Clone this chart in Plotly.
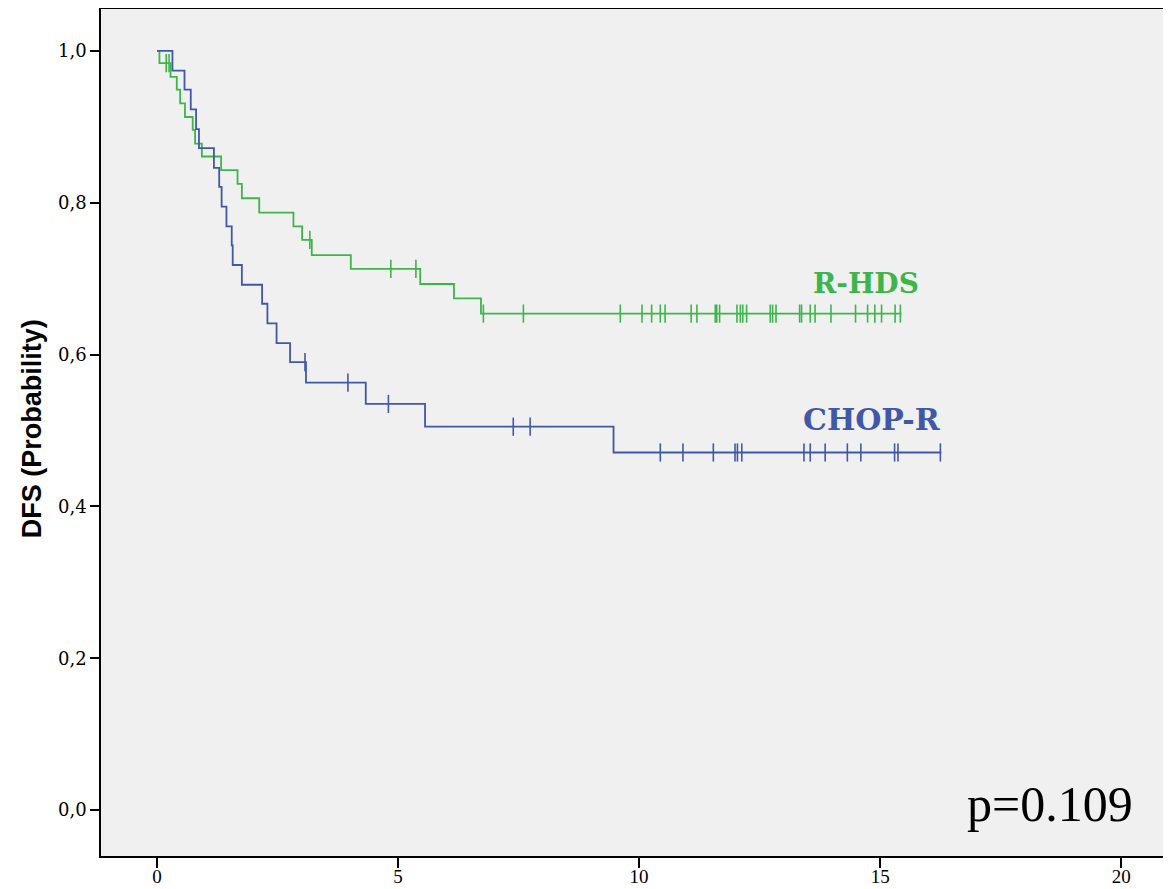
import numpy as np
import plotly.graph_objects as go

# ---- R-HDS (green) : event times and survival after each drop
rhds_times = [0.0, 0.05, 0.28, 0.41, 0.48, 0.58, 0.74, 0.79, 0.93, 1.33, 1.67, 1.76,
              2.12, 2.83, 3.01, 3.21, 4.02, 5.46, 6.16, 6.72]
rhds_surv = [1.0, 0.984, 0.966, 0.949, 0.931, 0.913, 0.896, 0.878, 0.861, 0.843, 0.825,
             0.806, 0.787, 0.769, 0.751, 0.731, 0.713, 0.693, 0.674, 0.654]
rhds_censor = [0.19, 0.25, 3.17, 4.85, 5.37, 6.77, 7.60, 9.61, 10.06, 10.26, 10.44, 10.54,
               11.08, 11.20, 11.58, 11.61, 11.67, 12.03, 12.10, 12.15, 12.23, 12.72, 12.77,
               12.84, 13.33, 13.37, 13.55, 13.65, 13.98, 14.49, 14.74, 14.89, 15.03, 15.31,
               15.42]
rhds_end = 15.44

# ---- CHOP-R (blue)
chop_times = [0.0, 0.32, 0.57, 0.70, 0.81, 0.87, 1.18, 1.29, 1.34, 1.44, 1.55, 1.57,
              1.76, 2.18, 2.29, 2.48, 2.76, 3.09, 4.33, 5.56, 9.47]
chop_surv = [1.0, 0.974, 0.949, 0.923, 0.897, 0.872, 0.846, 0.821, 0.795, 0.769, 0.744,
             0.718, 0.692, 0.667, 0.641, 0.615, 0.590, 0.563, 0.535, 0.505, 0.471]
chop_censor = [3.07, 3.96, 4.80, 7.39, 7.74, 10.44, 10.91, 11.54, 11.99, 12.04, 12.13,
               13.42, 13.55, 13.86, 14.32, 14.60, 15.30, 15.37, 16.25]
chop_end = 16.27

x_ticks = [0, 5, 10, 15, 20]
y_ticks = [0.0, 0.2, 0.4, 0.6, 0.8, 1.0]
y_ticklabels = ["0,0", "0,2", "0,4", "0,6", "0,8", "1,0"]

GREEN = "#3db54a"
BLUE = "#3f58a8"


def step_value(times, surv, t):
    idx = np.searchsorted(np.array(times), t, side="right") - 1
    return np.array(surv)[idx]


fig = go.Figure()
for times, surv, cens, end, col in [
    (rhds_times, rhds_surv, rhds_censor, rhds_end, GREEN),
    (chop_times, chop_surv, chop_censor, chop_end, BLUE),
]:
    xs = list(times) + [end]
    ys = list(surv) + [surv[-1]]
    fig.add_trace(go.Scatter(x=xs, y=ys, mode="lines", line=dict(color=col, width=1.8, shape="hv"),
                             showlegend=False, hoverinfo="skip"))
    fig.add_trace(go.Scatter(x=cens, y=step_value(times, surv, cens), mode="markers",
                             marker=dict(symbol="line-ns-open", size=13, color=col,
                                         line=dict(color=col, width=1.6)),
                             showlegend=False, hoverinfo="skip"))

fig.add_annotation(x=14.71, y=0.694, text="<b>R-HDS</b>", showarrow=False,
                   font=dict(family="DejaVu Serif", size=28, color=GREEN))
fig.add_annotation(x=14.83, y=0.514, text="<b>CHOP-R</b>", showarrow=False,
                   font=dict(family="DejaVu Serif", size=30, color=BLUE))
fig.add_annotation(x=20.29, y=0.008, text="p=0.109", showarrow=False, xanchor="right",
                   font=dict(family="Liberation Serif", size=50, color="black"))
fig.add_annotation(xref="paper", yref="paper", x=-0.0648, y=0.505, text="<b>DFS (Probability)</b>",
                   showarrow=False, textangle=-90, xanchor="center", yanchor="middle",
                   font=dict(family="Liberation Sans", size=27, color="black"))

fig.update_layout(
    width=1163, height=881,
    margin=dict(l=93, r=5, t=1, b=33, autoexpand=False),
    paper_bgcolor="white", plot_bgcolor="#f0f0f0",
    xaxis=dict(range=[-1.162, 20.93], tickvals=x_ticks, ticktext=[str(v) for v in x_ticks],
               showgrid=False, zeroline=False, ticks="outside", ticklen=10, tickwidth=1.5,
               tickcolor="black", showline=True, linecolor="black", linewidth=1.5, mirror=True,
               automargin=False, ticklabelstandoff=-8,
               tickfont=dict(family="Liberation Serif", size=19, color="black")),
    yaxis=dict(range=[-0.0606, 1.0553], tickvals=y_ticks, ticktext=y_ticklabels,
               showgrid=False, zeroline=False, ticks="outside", ticklen=9, tickwidth=1.5,
               tickcolor="black", showline=True, linecolor="black", linewidth=1.5, mirror=True,
               automargin=False,
               tickfont=dict(family="DejaVu Serif", size=18, color="black")),
)

fig.write_html("out.html")
